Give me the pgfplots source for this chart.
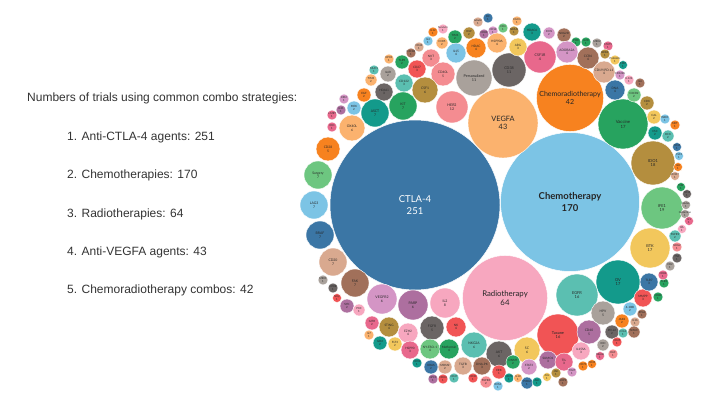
\documentclass[border=0pt]{standalone}
\usepackage{pgfplots}
\pgfplotsset{compat=1.18}
\usepackage{fontspec}
\setmainfont{Liberation Sans}
\newfontfamily\lato{Lato}
\definecolor{txt}{HTML}{333333}
\definecolor{k0}{RGB}{59,118,165}
\definecolor{k1}{RGB}{124,196,229}
\definecolor{k2}{RGB}{247,167,191}
\definecolor{k3}{RGB}{251,178,110}
\definecolor{k4}{RGB}{247,130,31}
\definecolor{k5}{RGB}{39,163,95}
\definecolor{k6}{RGB}{180,142,62}
\definecolor{k7}{RGB}{109,198,128}
\definecolor{k8}{RGB}{242,199,92}
\definecolor{k9}{RGB}{19,154,139}
\definecolor{k10}{RGB}{91,191,177}
\definecolor{k11}{RGB}{241,84,85}
\definecolor{k12}{RGB}{169,161,155}
\definecolor{k13}{RGB}{107,101,100}
\definecolor{k14}{RGB}{232,104,140}
\definecolor{k15}{RGB}{244,140,145}
\definecolor{k16}{RGB}{173,111,159}
\definecolor{k17}{RGB}{212,149,197}
\definecolor{k18}{RGB}{161,112,90}
\definecolor{k19}{RGB}{217,169,143}

\begin{document}
\begin{tikzpicture}
\begin{axis}[
  scale only axis, width=714pt, height=395pt,
  xmin=0, xmax=714, ymin=0, ymax=395, y dir=reverse,
  hide axis, clip=false,
]
\path (axis cs:0,0) rectangle (axis cs:714,395);

% big two
\addplot[only marks, mark=*, mark size=85pt, mark options={fill=k0, draw=white, line width=0.5pt},
  nodes near coords={CTLA-4\\251},
  every node near coord/.append style={anchor=center, align=center, text=white,
    font=\lato\fontsize{9.5pt}{11.5pt}\selectfont}]
  coordinates {(415,205)};
\addplot[only marks, mark=*, mark size=69.5pt, mark options={fill=k1, draw=white, line width=0.5pt},
  nodes near coords={Chemotherapy\\170},
  every node near coord/.append style={anchor=center, align=center, text=black!85,
    font=\lato\bfseries\fontsize{9.5pt}{11.5pt}\selectfont}]
  coordinates {(570,202)};

\addplot[scatter, only marks, mark=*,
  point meta=explicit symbolic,
  visualization depends on={\thisrow{r} \as \rr},
  visualization depends on={value \thisrow{name} \as \nm},
  visualization depends on={value \thisrow{n} \as \nv},
  scatter/@pre marker code/.code={\edef\kcol{k\pgfplotspointmeta}\scope[mark size=\rr pt, fill=\kcol, draw=white, line width=0.4pt]},
  scatter/@post marker code/.code={\endscope
    \pgfkeys{/pgf/fpu=false}%
    \pgfmathsetmacro\fsz{\rr>30 ? min(7.8,0.21*\rr) : 2.3+0.08*\rr}%
    \pgfmathsetmacro\lsz{1.15*\fsz}%
    \node[inner sep=0pt, text=black!85, align=center,
      font=\lato\fontsize{\fsz pt}{\lsz pt}\selectfont] at (0,0) {\nm\\\nv};},
] table[x=x, y=y, meta=c, col sep=comma] {
x,y,r,c,name,n
505,298,42.5,2,Radiotherapy,64
503,123,35,3,VEGFA,43
570,98,33.5,4,Chemoradiotherapy,42
623,124,25,5,Vaccine,17
653,163,22,6,IDO1,18
662,208,21,7,IFE1,19
650,248,20,8,BTK,17
618,282,22,9,OV,17
577,295,21,10,EGFR,16
558,335,21,11,Taxane,16
452,107,16,15,HER2,12
474,78,18,12,Personalized,11
509,70,17,13,CD38,11
540,57,16,14,CSF1R,4
443,29,5,2,Survivin,1
433,32,5,4,IL12,1
442,43,6,3,CCR5,2
428,41,5,1,IL4,1
419,47,5,19,CD44,1
411,53,5,18,CXCR4,1
431,58,9,15,NKT,3
402,62,7,5,TLR9,2
389,59,5,3,XPO1,1
417,69,9,11,CD27,3
443,74,12,15,CD40L,5
374,70,5,10,MUC1,1
388,74,8,12,IL6R,2
404,83,9,10,CD122,3
371,80,6,3,TIM3,2
384,92,9,13,HDACi,3
425,90,13,6,CSF1,6
364,95,7,4,EGF,2
403,106,14,5,KIT,7
375,113,14,9,ASCT,7
354,108,7,1,MEK,2
344,99,5,17,KIR2,1
341,110,5,16,IL21,1
332,115,5,14,c-MET,1
352,128,13,3,OX40L,6
332,127,5,14,IDO,1
328,149,12,4,CD28,5
318,175,14,7,Surgery,7
314,205,14,1,LAG3,7
320,235,14,0,BRAF,7
333,262,14,19,CD20,7
355,283,14,18,FAK,7
323,280,5,12,MEK1,1
333,288,5,13,mTOR,1
337,298,4.5,11,NKp,1
347,306,7,16,SYK,2
359,310,6,2,PKC,1
382,299,15,17,VEGFR2,6
413,305,15,16,PARP,6
445,303,15,2,IL2,8
372,323,7,14,GITR,2
389,327,10,6,STING,4
369,335,5,3,IL7,1
408,333,10,2,EZH2,4
432,328,12,13,FGFR,5
456,327,10,11,NK,4
380,343,7,9,GD2,2
395,344,7,8,FLT3,2
410,350,9,14,HSP90,3
430,349,10,7,NY-ESO-1,4
449,349,10,5,Metformin,4
474,345,13,10,NKG2A,6
499,354,13,13,AKT,6
527,350,13,8,SC,6
589,332,12,16,CD40,5
581,351,9,2,IL15SA,3
548,360,9,16,SUMO1,3
564,362,9,14,TIL,3
529,367,8,17,STAT3,2
513,362,7,5,DNMT,2
499,372,7,11,ERK,1
482,366,9,18,DNA-PK,3
463,366,9,19,TGFB,3
454,378,5,10,CD47,1
473,378,5,11,CD30,1
486,382,6,15,FGFR4,2
509,378,5,9,CD70,1
498,386,5,1,ROS1,1
518,378,4.5,3,IL10,1
527,383,6,0,PI3Kd,1
537,382,5,9,ALK,1
547,377,4.5,8,AXL,1
556,373,5,6,JAK,1
563,382,5,18,SHP2,1
572,372,5,17,TIGIT,1
583,366,5,4,CD73,1
592,364,4.5,4,CD39,1
600,356,4.5,14,NKp46,1
417,363,5,9,CD96,1
431,367,7,0,KRAS,2
445,367,7,19,MDM2,2
433,379,5,16,GPC3,1
443,379,5,11,CDK4,1
603,313,12,12,HPV,5
630,309,7,1,4-1BB,2
642,314,5,18,BTLA,1
643,298,9,11,MMP9,3
658,297,5,5,CD80,1
649,282,9,0,TLR7,3
664,283,5,5,TLR3,1
663,275,5,14,CD86,1
670,266,5,12,CD2,1
622,321,7,4,JAK2,2
635,322,5,19,IL1b,1
612,332,7,13,PD-L2,2
623,333,5,10,CCL2,1
634,332,6,18,SMAC,1
603,345,6,12,IDH,2
617,342,5,11,CD25,1
613,354,5,15,RAF,1
655,133,7,9,CSC,2
668,136,6,10,DCK,2
677,147,4.5,0,CD33,1
679,156,4.5,1,CSF2,1
678,167,4.5,4,IL8,1
675,176,4.5,19,CD117,1
681,187,4.5,5,PIM,1
687,194,4.5,13,CD19,1
686,205,4.5,12,Gluten,1
685,214,4.5,12,Glutamine,1
689,221,4.5,14,IL1,1
682,229,4.5,2,RA,1
675,236,6,10,FGFR1,2
677,247,5,15,NKG2,1
677,258,5,13,TNF,1
586,42,5,5,IL2R,1
576,42,5,5,PI3K,1
597,43,5,12,MEK2,1
608,46,5,14,STAT5,1
588,58,11,18,CCR4,4
605,54,5,6,BRD4,1
615,60,5,8,Prebiotic,1
623,65,4.5,9,CMV,1
604,72,11,19,CD19/PD-L1,4
620,75,5,17,CD122b,1
629,80,5,2,IL12b,1
640,83,5,18,IL6,1
615,90,10,0,DNA,4
634,95,7,7,CXCR2,2
647,103,7,6,CDK,2
654,117,7,8,CAL,2
665,119,5,1,WEE1,1
675,125,5,4,MET,1
478,22,5,19,tubulin,1
488,18,5,0,DC,1
517,21,5,3,EGCG,1
469,33,6,6,HGF,2
484,34,5,16,CD83,1
493,31,5,17,CD1d,1
503,28,5,7,CD4,1
514,31,5,6,NKAN,1
532,32,9,9,HDAC6,3
549,33,6,17,ICOS,2
564,35,7,18,NKG2D,2
455,37,7,5,TIM1,2
456,53,10,1,IL15,4
476,48,10,4,HDAC,4
497,43,10,3,HSP90A,4
518,47,9,8,ARG,3
567,52,11,17,ADORA2A,4
};

\begin{scope}[every node/.style={anchor=west, text=txt, font=\fontsize{12pt}{14pt}\selectfont, inner sep=0pt}]
\node at (axis cs:27,98) {Numbers of trials using common combo strategies:};
\node at (axis cs:67,137) {1. Anti-CTLA-4 agents: 251};
\node at (axis cs:67,175) {2. Chemotherapies: 170};
\node at (axis cs:67,214) {3. Radiotherapies: 64};
\node at (axis cs:67,252) {4. Anti-VEGFA agents: 43};
\node at (axis cs:67,290) {5. Chemoradiotherapy combos: 42};
\end{scope}
\end{axis}
\end{tikzpicture}
\end{document}
